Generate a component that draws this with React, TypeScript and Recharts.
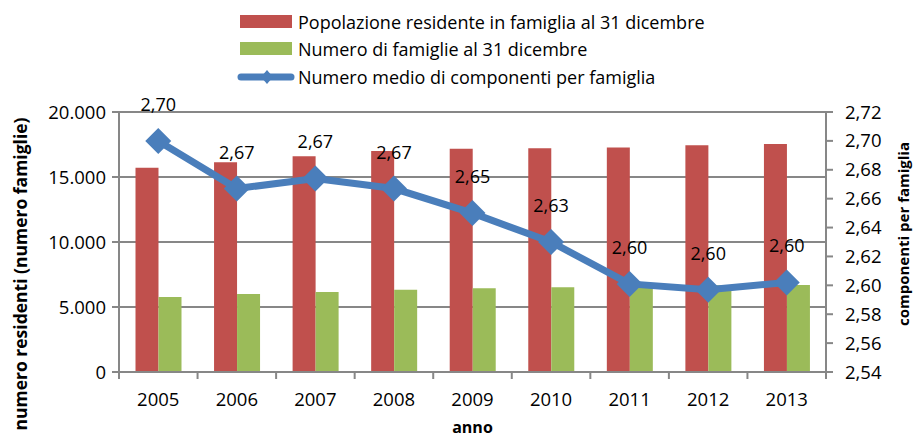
import React from "react"
import {
  ComposedChart,
  Bar,
  Line,
  XAxis,
  YAxis,
  CartesianGrid,
  LabelList,
} from "recharts"

const years = ["2005", "2006", "2007", "2008", "2009", "2010", "2011", "2012", "2013"]
const residents = [15720, 16130, 16590, 17000, 17180, 17210, 17260, 17440, 17540]
const families = [5770, 6000, 6150, 6330, 6440, 6510, 6620, 6680, 6700]
const avgMembers = [2.7, 2.667, 2.674, 2.667, 2.65, 2.63, 2.601, 2.597, 2.602]
const leftTicks = [0, 5000, 10000, 15000, 20000]
const rightTicks = [2.54, 2.56, 2.58, 2.6, 2.62, 2.64, 2.66, 2.68, 2.7, 2.72]

const RED = "#C0504D"
const GREEN = "#9BBB59"
const BLUE = "#4A7EBB"
const GRID = "#878787"
const FONT = "'Open Sans', sans-serif"

const W = 915
const H = 441
const PLOT_LEFT = 119
const PLOT_RIGHT = 826
const PLOT_TOP = 112
const PLOT_BOTTOM = 372
const BAND = (PLOT_RIGHT - PLOT_LEFT) / years.length

const data = years.map((year, i) => ({
  year,
  residents: residents[i],
  families: families[i],
  avg: avgMembers[i],
}))

const fmtThousands = (v: number) => String(v).replace(/\B(?=(\d{3})+(?!\d))/g, ".")
const fmtDec = (v: number) => v.toFixed(2).replace(".", ",")

const tickText = { fill: "#000", fontSize: 18.5, fontFamily: FONT }
const labelText = { fill: "#000", fontSize: 18, fontFamily: FONT }

function YearTick(props: any) {
  const { x, y, payload, index } = props
  const left = x - BAND / 2
  return (
    <g>
      <line x1={left} y1={y} x2={left} y2={y + 7} stroke={GRID} strokeWidth={2} />
      {index === years.length - 1 && (
        <line x1={x + BAND / 2} y1={y} x2={x + BAND / 2} y2={y + 7} stroke={GRID} strokeWidth={2} />
      )}
      <text x={x} y={y + 34} textAnchor="middle" {...tickText}>
        {payload.value}
      </text>
    </g>
  )
}

function Diamond(props: any) {
  const { cx, cy } = props
  if (cx == null || cy == null) return null
  const r = 13
  return (
    <polygon
      points={`${cx},${cy - r} ${cx + r},${cy} ${cx},${cy + r} ${cx - r},${cy}`}
      fill={BLUE}
    />
  )
}

function AvgLabel(props: any) {
  const { x, y, value } = props
  return (
    <text x={x} y={y - 30} textAnchor="middle" {...labelText}>
      {fmtDec(value)}
    </text>
  )
}

function LegendBox() {
  const rows = [
    { label: "Popolazione residente in famiglia al 31 dicembre", kind: "bar", color: RED },
    { label: "Numero di famiglie al 31 dicembre", kind: "bar", color: GREEN },
    { label: "Numero medio di componenti per famiglia", kind: "line", color: BLUE },
  ]
  return (
    <div style={{ position: "absolute", left: 237, top: 8, fontFamily: FONT, fontSize: 18 }}>
      {rows.map((r) => (
        <div key={r.label} style={{ display: "flex", alignItems: "center", height: 27.5 }}>
          <svg width={58} height={16} style={{ marginRight: 3 }}>
            {r.kind === "bar" ? (
              <rect x={3} y={1} width={52} height={13} fill={r.color} />
            ) : (
              <g>
                <line x1={4} y1={8} x2={54} y2={8} stroke={r.color} strokeWidth={7} strokeLinecap="round" />
                <polygon points="30,1 36,8 30,15 24,8" fill={r.color} />
              </g>
            )}
          </svg>
          <span>{r.label}</span>
        </div>
      ))}
    </div>
  )
}

export default function App() {
  return (
    <div style={{ position: "absolute", left: 0, top: 0, width: W, height: H, background: "#fff" }}>
      <ComposedChart
        width={W}
        height={H}
        data={data}
        margin={{ top: PLOT_TOP, right: 0, bottom: 0, left: 0 }}
        barCategoryGap="21%"
        barGap={0}
      >
        <CartesianGrid
          yAxisId="left"
          vertical={false}
          stroke={GRID}
          strokeWidth={2}
        />
        <XAxis
          dataKey="year"
          height={H - PLOT_BOTTOM}
          tick={<YearTick />}
          tickLine={false}
          tickSize={0}
          tickMargin={0}
          axisLine={{ stroke: GRID, strokeWidth: 2 }}
          interval={0}
          label={{
            content: () => (
              <text
                x={(PLOT_LEFT + PLOT_RIGHT) / 2}
                y={433}
                textAnchor="middle"
                fontFamily={FONT}
                fontSize={16}
                fontWeight="bold"
              >
                anno
              </text>
            ),
          }}
        />
        <YAxis
          yAxisId="left"
          width={PLOT_LEFT}
          domain={[0, 20000]}
          ticks={leftTicks}
          tickFormatter={fmtThousands}
          tick={tickText}
          tickSize={7}
          tickMargin={6}
          tickLine={{ stroke: GRID, strokeWidth: 2 }}
          axisLine={{ stroke: GRID, strokeWidth: 2 }}
          label={{
            content: () => (
              <text
                x={27}
                y={274}
                transform="rotate(-90 27 274)"
                textAnchor="middle"
                fontFamily={FONT}
                fontSize={17.5}
                fontWeight="bold"
              >
                numero residenti (numero famiglie)
              </text>
            ),
          }}
        />
        <YAxis
          yAxisId="right"
          orientation="right"
          width={W - PLOT_RIGHT}
          domain={[2.54, 2.72]}
          ticks={rightTicks}
          tickFormatter={fmtDec}
          tick={tickText}
          tickSize={7}
          tickMargin={12}
          tickLine={{ stroke: GRID, strokeWidth: 2 }}
          axisLine={{ stroke: GRID, strokeWidth: 2 }}
          label={{
            content: () => (
              <text
                x={903}
                y={234}
                transform="rotate(-90 903 234)"
                textAnchor="middle"
                dominantBaseline="central"
                fontFamily={FONT}
                fontSize={15}
                fontWeight="bold"
              >
                componenti per famiglia
              </text>
            ),
          }}
        />
        <Bar yAxisId="left" dataKey="residents" fill={RED} isAnimationActive={false} />
        <Bar yAxisId="left" dataKey="families" fill={GREEN} isAnimationActive={false} />
        <Line
          yAxisId="right"
          dataKey="avg"
          stroke={BLUE}
          strokeWidth={7}
          dot={<Diamond />}
          activeDot={false}
          isAnimationActive={false}
        >
          <LabelList dataKey="avg" content={<AvgLabel />} />
        </Line>
      </ComposedChart>
      <LegendBox />
    </div>
  )
}
